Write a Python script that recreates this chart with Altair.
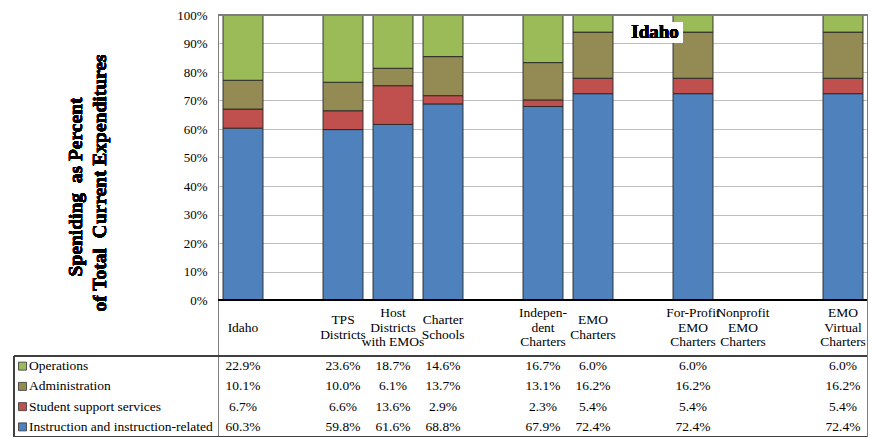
import altair as alt
import pandas as pd

# ---------------- data ----------------
categories = ["Idaho", "TPS Districts", "Host Districts with EMOs", "Charter Schools",
              "Independent Charters", "EMO Charters", "For-Profit EMO Charters",
              "Nonprofit EMO Charters", "EMO Virtual Charters"]
header_labels = ["Idaho", "TPS\nDistricts", "Host\nDistricts\nwith EMOs", "Charter\nSchools",
                 "Indepen-\ndent\nCharters", "EMO\nCharters", "For-Profit\nEMO\nCharters",
                 "Nonprofit\nEMO\nCharters", "EMO\nVirtual\nCharters"]
slots = [0, 2, 3, 4, 6, 7, 9, 10, 12]   # column slot of each category (13 slots)
n_slots = 13

series = ["Instruction and instruction-related", "Student support services",
          "Administration", "Operations"]
colors = ["#4F81BD", "#C0504D", "#948A54", "#9BBB59"]

instruction = [60.3, 59.8, 61.6, 68.8, 67.9, 72.4, 72.4, None, 72.4]
student_support = [6.7, 6.6, 13.6, 2.9, 2.3, 5.4, 5.4, None, 5.4]
administration = [10.1, 10.0, 6.1, 13.7, 13.1, 16.2, 16.2, None, 16.2]
operations = [22.9, 23.6, 18.7, 14.6, 16.7, 6.0, 6.0, None, 6.0]

y_ticks = [0, 10, 20, 30, 40, 50, 60, 70, 80, 90, 100]

# ---------------- layout helpers ----------------
FONT = "Liberation Serif"
PLOT_W = 650
TOP_PAD = 7
TOP_Y = 8 + TOP_PAD        # page y of 100%
ZERO_Y = 300               # page y of 0%
PX = (ZERO_Y - TOP_Y) / 100.0
PLOT_H = 437 - TOP_Y
YMIN = -(PLOT_H - 100 * PX) / PX
ORIGIN_X = 218             # page x of plot origin


def yv(page_y):
    return (ZERO_Y - page_y) / PX


def xv(page_x):
    return (page_x - ORIGIN_X) / 50.0


TABLE_TOP = 356
ROW_H = 20.25
HEADER_Y = 327.5
LINE_H = 14.5

all_values = [instruction, student_support, administration, operations]
rows = []
for si, (s, vals) in enumerate(zip(series, all_values)):
    for ci, cat in enumerate(categories):
        v = vals[ci]
        if v is None:
            continue
        rows.append({"cat": cat, "slot": slots[ci], "series": s, "order": si, "value": v,
                     "label": f"{v:.1f}%",
                     "ty": yv(TABLE_TOP + ROW_H / 2 + ROW_H * (3 - si))})
df = pd.DataFrame(rows)

hdr = pd.DataFrame({
    "label": header_labels,
    "xc": [s + 0.5 for s in slots],
    "ty": [yv(HEADER_Y - (lab.count("\n")) * LINE_H / 2) for lab in header_labels],
})
leg = pd.DataFrame({"series": series,
                    "ty": [yv(TABLE_TOP + ROW_H / 2 + ROW_H * (3 - i)) for i in range(4)]})
ticks_df = pd.DataFrame({"t": y_ticks})

X = alt.Scale(domain=[0, n_slots], nice=False, zero=False)
Y = alt.Scale(domain=[YMIN, 100], nice=False, zero=False)
C = alt.Scale(domain=series, range=colors)

yaxis = alt.Axis(values=y_ticks, labelExpr="datum.value + '%'", title=None,
                 grid=True, gridColor="#BFBFBF", gridWidth=1,
                 domain=True, domainColor="#7F7F7F", ticks=False,
                 labelFont=FONT, labelFontSize=13, labelColor="black", labelPadding=11)

bars = (alt.Chart(df)
        .transform_stack(stack="value", as_=["y0", "y1"], groupby=["slot"],
                         sort=[alt.SortField("order", order="ascending")])
        .transform_calculate(x0="datum.slot + 0.1", x1="datum.slot + 0.9")
        .mark_rect(stroke="#262626", strokeWidth=0.9)
        .encode(x=alt.X("x0:Q", scale=X, axis=None),
                x2="x1:Q",
                y=alt.Y("y0:Q", scale=Y, axis=yaxis),
                y2="y1:Q",
                color=alt.Color("series:N", scale=C, legend=None)))


def hline(yval, x0, x1, color, w=1):
    return alt.Chart(ticks_df).mark_rule(color=color, strokeWidth=w).encode(
        x=alt.datum(x0, scale=X), x2=alt.datum(x1), y=alt.datum(yval, scale=Y))


def vline(xval, y0, y1, color, w=1):
    return alt.Chart(ticks_df).mark_rule(color=color, strokeWidth=w).encode(
        x=alt.datum(xval, scale=X), y=alt.datum(y0, scale=Y), y2=alt.datum(y1))


lines = [
    hline(100, 0, n_slots, "#7F7F7F"),
    hline(0, 0, n_slots, "black"),
    hline(yv(TABLE_TOP), xv(14), n_slots, "#404040"),
    hline(YMIN, xv(14), n_slots, "#404040"),
    vline(n_slots, YMIN, 100, "#7F7F7F"),
    vline(xv(14), YMIN, yv(TABLE_TOP), "#404040"),
]

header = alt.Chart(hdr).mark_text(font=FONT, fontSize=13.5, lineBreak="\n", lineHeight=LINE_H,
                                  align="center", baseline="middle", color="black").encode(
    x=alt.X("xc:Q", scale=X), y=alt.Y("ty:Q", scale=Y), text="label:N")

cells = alt.Chart(df).transform_calculate(xc="datum.slot + 0.5").mark_text(
    font=FONT, fontSize=13.5, align="center", baseline="middle", color="black").encode(
    x=alt.X("xc:Q", scale=X), y=alt.Y("ty:Q", scale=Y), text="label:N")

leg_sq = alt.Chart(leg).mark_square(size=64, opacity=1, stroke="#333333", strokeWidth=0.8).encode(
    x=alt.datum(xv(22.5), scale=X), y=alt.Y("ty:Q", scale=Y),
    color=alt.Color("series:N", scale=C, legend=None))

leg_txt = alt.Chart(leg).mark_text(font=FONT, fontSize=13.5, align="left", baseline="middle",
                                   color="black").encode(
    x=alt.datum(xv(29), scale=X), y=alt.Y("ty:Q", scale=Y), text="series:N")

title1 = alt.Chart(ticks_df).mark_text(font=FONT, fontSize=19.5, fontWeight="bold", angle=270,
                                       align="center", baseline="middle", color="black").encode(
    x=alt.value(76 - ORIGIN_X), y=alt.value(187 - TOP_Y), text=alt.value("Speniding\u00a0 as Percent"))
title2 = alt.Chart(ticks_df).mark_text(font=FONT, fontSize=19.5, fontWeight="bold", angle=270,
                                       align="center", baseline="middle", color="black").encode(
    x=alt.value(100 - ORIGIN_X), y=alt.value(183 - TOP_Y), text=alt.value("of Total\u00a0 Current Expenditures"))

box = alt.Chart(ticks_df).mark_rect(color="white").encode(
    x=alt.value(628 - ORIGIN_X), x2=alt.value(683 - ORIGIN_X),
    y=alt.value(22 - TOP_Y), y2=alt.value(43 - TOP_Y))
idaho = alt.Chart(ticks_df).mark_text(font=FONT, fontSize=19, fontWeight="bold", align="center",
                                      baseline="middle", color="black").encode(
    x=alt.value(655 - ORIGIN_X), y=alt.value(32 - TOP_Y), text=alt.value("Idaho"))

chart = alt.layer(bars, *lines, header, cells, leg_sq, leg_txt, title1, title2, box, idaho).properties(
    width=PLOT_W, height=PLOT_H,
    autosize=alt.AutoSizeParams(type="none"),
    padding={"left": ORIGIN_X - 8, "top": TOP_PAD, "right": 0, "bottom": 0},
).configure_view(stroke=None).configure(background="white")

chart.save("out.html", embed_options={"renderer": "svg", "actions": False})
